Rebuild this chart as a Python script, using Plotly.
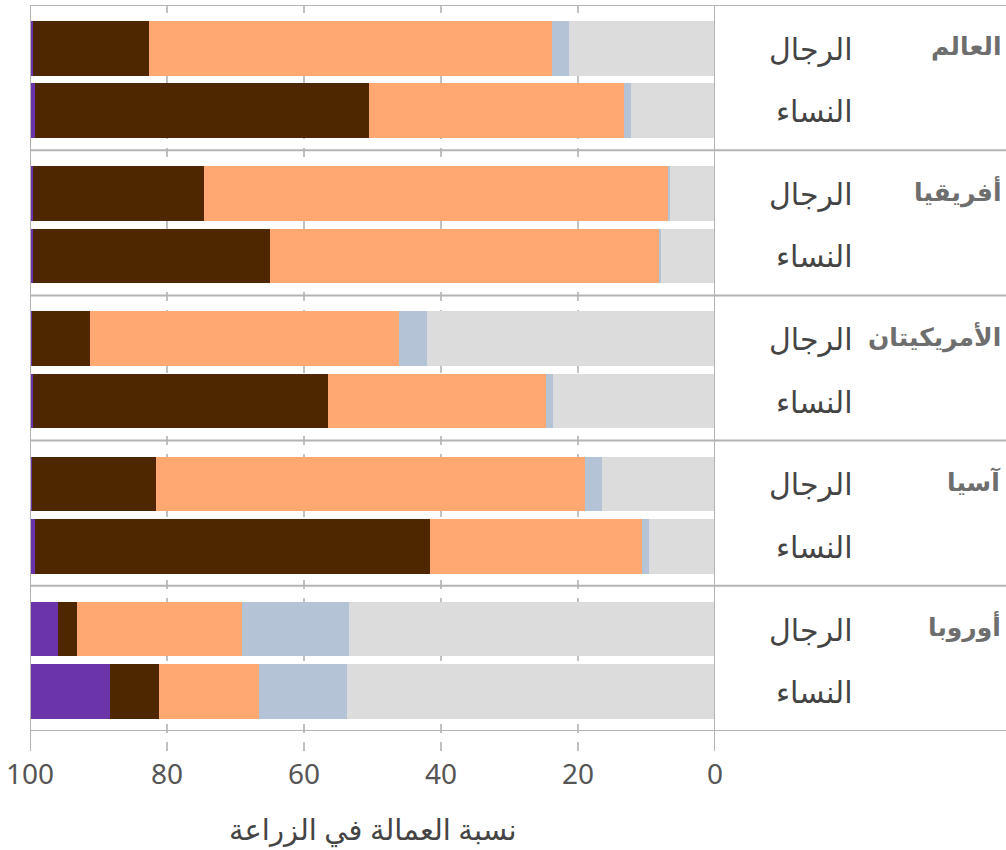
import plotly.graph_objects as go

regions = ["العالم", "أفريقيا", "الأمريكيتان", "آسيا", "أوروبا"]
sexes = ["الرجال", "النساء"]

# order of rows: region x sex (men, women)
gray_vals   = [21.3, 12.3, 6.5, 7.9, 42.1, 23.6, 16.5, 9.7, 53.4, 53.7]
blue_vals   = [2.5, 1.0, 0.3, 0.3, 4.1, 1.1, 2.5, 0.9, 15.7, 12.8]
orange_vals = [58.8, 37.2, 67.8, 56.7, 45.0, 31.8, 62.6, 31.0, 24.0, 14.7]
brown_vals  = [16.9, 48.8, 24.9, 34.7, 8.6, 43.0, 18.2, 57.7, 2.8, 7.1]
purple_vals = [0.5, 0.7, 0.5, 0.4, 0.2, 0.5, 0.2, 0.7, 4.1, 11.7]

series = [
    ("s1", gray_vals, "#dcdcdc"),
    ("s2", blue_vals, "#b4c4d6"),
    ("s3", orange_vals, "#ffa872"),
    ("s4", brown_vals, "#4e2700"),
    ("s5", purple_vals, "#6b35a9"),
]

x_ticks = [0, 20, 40, 60, 80, 100]

# y positions (layout), one group unit per region
offsets = [0.298, 0.728]
ypos = []
for g in range(len(regions)):
    for o in offsets:
        ypos.append(g + o)

fig = go.Figure()
for name, vals, col in series:
    fig.add_trace(go.Bar(
        x=vals, y=ypos, orientation="h", name=name,
        marker=dict(color=col, line=dict(width=0)),
        width=0.376, showlegend=False,
    ))

PL, PR, PT, PB = 30, 291, 5, 119
W, H = 1006, 850
pw = W - PL - PR
ph = H - PT - PB
xr_full = (W - PL) / pw
below = -20 / ph

shapes = []
line_col = "#b4b4b4"
for t in x_ticks:
    if t in (0, 100):
        shapes.append(dict(type="line", xref="x", yref="paper", x0=t, x1=t, y0=below, y1=1,
                           line=dict(color=line_col, width=2), layer="above"))
    else:
        shapes.append(dict(type="line", xref="x", yref="paper", x0=t, x1=t, y0=below, y1=1,
                           line=dict(color="#a0a0a0", width=1.3, dash="dash"), layer="below"))
for g in range(len(regions) + 1):
    shapes.append(dict(type="line", xref="paper", yref="y", x0=0, x1=xr_full, y0=g, y1=g,
                       line=dict(color=line_col, width=2), layer="above"))

annotations = []
for g, r in enumerate(regions):
    annotations.append(dict(xref="paper", yref="y", x=(1003 - PL) / pw, y=g + offsets[0] - 0.02,
                            text="<b>" + r + "</b>", showarrow=False, xanchor="right",
                            yanchor="middle", font=dict(size=25, color="#6e6e6e")))
    for s, o in zip(sexes, offsets):
        annotations.append(dict(xref="paper", yref="y", x=(855 - PL) / pw, y=g + o,
                                text=s, showarrow=False, xanchor="right", yanchor="middle",
                                font=dict(size=30, color="#444444")))
annotations.append(dict(xref="paper", yref="paper", x=0.5, y=-(828 - (H - PB)) / ph,
                        text="نسبة العمالة في الزراعة", showarrow=False, xanchor="center",
                        yanchor="middle", font=dict(size=29, color="#444444")))

fig.update_layout(
    width=W, height=H,
    margin=dict(l=PL, r=PR, t=PT, b=PB),
    barmode="stack",
    plot_bgcolor="white", paper_bgcolor="white",
    font=dict(family="Noto Sans, DejaVu Sans, sans-serif"),
    xaxis=dict(range=[100, 0], tickvals=x_ticks, ticktext=[str(t) for t in x_ticks],
               showgrid=False, zeroline=False, showline=False,
               ticks="outside", ticklen=18, tickcolor="rgba(0,0,0,0)",
               tickfont=dict(size=28, color="#555555"), fixedrange=True),
    yaxis=dict(range=[5, 0], showgrid=False, zeroline=False, showline=False,
               showticklabels=False, fixedrange=True),
    shapes=shapes,
    annotations=annotations,
)

fig.write_html("out.html")
